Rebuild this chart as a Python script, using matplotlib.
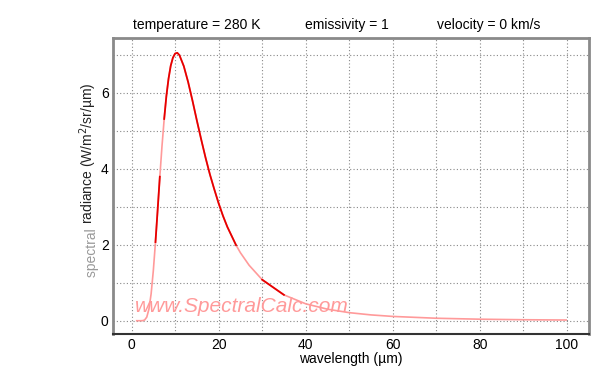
import matplotlib
matplotlib.use("Agg")
import matplotlib.pyplot as plt
import numpy as np

plt.rcParams['font.family'] = ['Liberation Sans', 'DejaVu Sans']

# wavelength (µm) and spectral radiance (W/m2/sr/µm)
wavelength = [1, 1.5, 2, 2.5, 3, 3.5, 4, 4.5, 5, 5.5, 6, 6.5, 7, 7.5, 8, 8.5, 9, 9.5, 10,
              10.5, 11, 12, 13, 14, 15, 16, 17, 18, 19, 20, 21, 22, 24, 25, 27, 30, 35,
              40, 45, 50, 55, 60, 70, 80, 90, 100]
radiance = [0.0, 0.0, 0.0, 0.0015, 0.018, 0.095, 0.307, 0.708, 1.31, 2.07, 2.92, 3.79, 4.60,
            5.31, 5.91, 6.37, 6.71, 6.92, 7.03, 7.05, 6.99, 6.70, 6.28, 5.79, 5.27, 4.77,
            4.29, 3.85, 3.46, 3.09, 2.76, 2.47, 1.99, 1.79, 1.46, 1.08, 0.68, 0.445, 0.303,
            0.212, 0.153, 0.113, 0.065, 0.040, 0.026, 0.018]

# wavelength spans where the line is drawn in full red (elsewhere faded by watermark)
red_spans = [(5.5, 6.5), (7.5, 24), (30, 35)]

x_ticks = [0, 20, 40, 60, 80, 100]
y_ticks = [0, 2, 4, 6]
header = ["temperature = 280 K", "emissivity = 1", "velocity = 0 km/s"]

fig = plt.figure(figsize=(6, 3.8), dpi=100)
ax = fig.add_axes([0.188, 0.121, 0.794, 0.779])
ax.set_xlim(-4.3, 105.1)
ax.set_ylim(-0.35, 7.44)

ax.set_xticks(np.arange(0, 101, 10), minor=True)
ax.set_yticks(np.arange(0, 8, 1), minor=True)
ax.set_xticks(x_ticks)
ax.set_yticks(y_ticks)
ax.tick_params(which='both', length=0, labelsize=10, colors='black')
ax.tick_params(axis='y', pad=3)
ax.tick_params(axis='x', pad=3)
ax.grid(which='both', color='#888888', linestyle=(0, (1, 2)), linewidth=0.8)

for s in ['left', 'top', 'right']:
    ax.spines[s].set_color('#8a8a8a')
    ax.spines[s].set_linewidth(2)
ax.spines['bottom'].set_color('#333333')
ax.spines['bottom'].set_linewidth(1.5)

wl = np.array(wavelength)
rd = np.array(radiance)
ax.plot(wl, rd, color='#ff9a9a', lw=1.2, solid_capstyle='butt', zorder=3)
for a, b in red_spans:
    m = (wl >= a) & (wl <= b)
    ax.plot(wl[m], rd[m], color='#e60000', lw=1.3, zorder=4)

ax.text(0.046, 0.074, "www.SpectralCalc.com", transform=ax.transAxes, fontsize=15,
        style='italic', color='#ff9a9a', ha='left', va='baseline', zorder=5)

ax.set_xlabel("wavelength (µm)", fontsize=10, labelpad=0)

# y label in two tones
xl = 99 / 600
t1 = fig.text(xl, 1 - 277 / 380, "spectral ", rotation=90, rotation_mode='anchor',
              ha='left', va='bottom', fontsize=10, color='#999999')
fig.canvas.draw()
bb = t1.get_window_extent()
y2 = fig.transFigure.inverted().transform((0, bb.y1))[1]
fig.text(xl, y2, "radiance (W/m$^2$/sr/µm)", rotation=90, rotation_mode='anchor',
         ha='left', va='bottom', fontsize=10, color='#222222')

for txt, xp in zip(header, [133, 305, 437]):
    fig.text(xp / 600, 1 - 29 / 380, txt, fontsize=10, ha='left', va='baseline')

fig.savefig("out.png", dpi=100)
